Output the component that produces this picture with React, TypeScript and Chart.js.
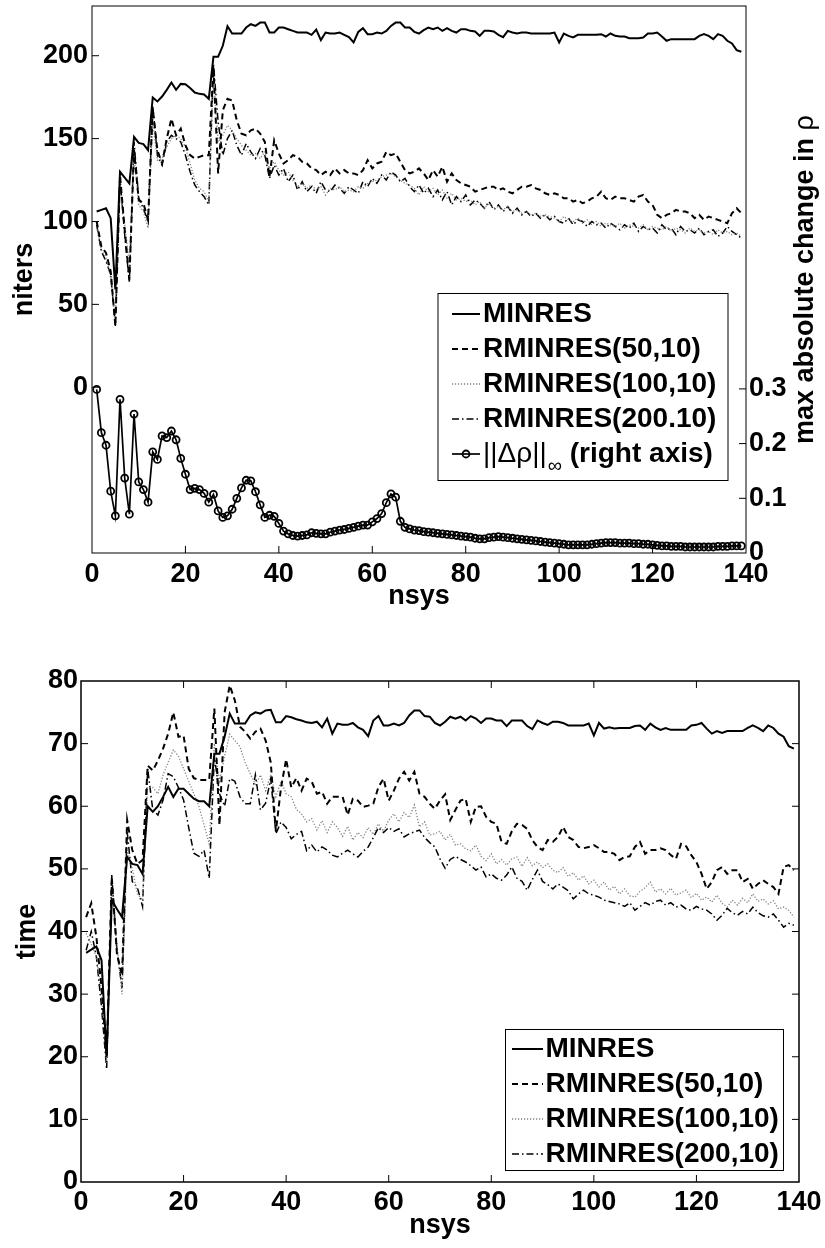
import React, { useEffect, useRef } from 'react';
import { Chart, registerables } from 'chart.js';

Chart.register(...registerables);

const FAMILY = "'Liberation Sans', Arial, Helvetica, sans-serif";
const BOLD27 = `bold 27px ${FAMILY}`;
const BOLD28 = `bold 28px ${FAMILY}`;

// linear system index (x axis of both panels)
const nsys: number[] = Array.from({ length: 139 }, (_, i) => i + 1);

const nsysTicks = [0, 20, 40, 60, 80, 100, 120, 140];
const niterTicks = [0, 50, 100, 150, 200];
const rhoTicks = [0, 0.1, 0.2, 0.3];
const timeTicks = [0, 10, 20, 30, 40, 50, 60, 70, 80];

const seriesNames = ['MINRES', 'RMINRES(50,10)', 'RMINRES(100,10)', 'RMINRES(200,10)'];
const seriesNamesTop = ['MINRES', 'RMINRES(50,10)', 'RMINRES(100,10)', 'RMINRES(200.10)'];

// ---- iteration counts ----
const itersMinres = [
  106, 107, 108, 102, 59, 130, 126.5, 123, 151, 147.4,
  146.7, 143, 174.8, 172.4, 175.4, 179.4, 183.8, 179.4, 183, 182.8,
  180.5, 177.8, 177, 176.6, 174, 199.4, 199.4, 206, 217.8, 213.4,
  213.4, 213.4, 217, 219, 218, 220, 220, 214, 214, 217,
  217, 216, 215, 214, 214, 214, 212.6, 215.8, 209.4, 214,
  213.4, 213.4, 214, 212.6, 211.2, 208, 214.4, 216.6, 213, 213,
  214, 213.4, 215, 218, 220, 220, 217, 217, 214.4, 213.4,
  215.4, 217, 216, 217, 215, 216.6, 215, 214, 216, 216,
  215, 214.6, 212, 215, 215, 214.6, 212.6, 211.2, 215, 214,
  213.4, 214, 214, 213.4, 213.4, 213.4, 213.4, 213.4, 214, 208,
  213.4, 212, 211, 212.6, 212.6, 212.6, 212.6, 212.6, 213, 211.6,
  213.4, 212, 211.6, 211.6, 210.6, 210.6, 210.6, 211, 213.4, 213.4,
  214, 211.6, 209, 210, 210, 210, 210, 210, 210, 212,
  213, 212, 210, 213, 212, 209, 207.4, 203.4, 202.4,
];

const iters50 = [
  100, 85, 81, 70, 37, 128, 95, 65, 143, 113,
  111, 101, 168, 143, 135, 150, 162, 152, 156, 146,
  140, 138, 139, 140, 140, 193, 129, 167, 174, 173,
  161, 153, 152, 155, 156, 153, 148, 127, 149, 141,
  135, 137, 140, 139, 136, 135, 132, 131, 128, 130,
  128, 132, 129, 131, 129, 129, 128, 131, 137, 132,
  135, 136, 142, 140, 141, 136, 131, 129, 130, 132,
  129, 125, 131, 127, 133, 124, 129, 125, 123, 122,
  121, 118, 119, 120, 121, 121, 119, 120, 118, 117,
  119, 121, 121, 122, 120, 119, 117, 116, 117, 116,
  114, 114, 112, 113, 111, 112, 114, 115, 118, 114,
  113, 115, 114, 114, 113, 112, 115, 116, 112, 110,
  104, 102, 104, 105, 107, 106, 106, 105, 102, 104,
  101, 103, 102, 101, 100, 99, 105, 108, 105,
];

const iters100 = [
  97, 83, 78, 66, 42, 124, 98, 75, 140, 110,
  106, 96, 160, 137, 138, 145, 150, 152, 150, 145,
  135, 125, 120, 118, 112, 188, 148, 152, 158, 155,
  150, 146, 143, 140, 141, 138, 142, 132, 136, 131,
  128, 130, 125, 121, 123, 120, 122, 119, 121, 116,
  120, 119, 121, 118, 119, 118, 121, 120, 123, 124,
  125, 127, 128, 129, 127, 125, 123, 122, 120, 116,
  121, 118, 120, 116, 119, 114, 117, 113, 114, 112,
  113, 110, 112, 108, 111, 108, 109, 107, 109, 106,
  107, 105, 106, 104, 105, 103, 104, 103, 102, 100,
  103, 101, 100, 102, 99, 101, 98, 100, 97, 99,
  98, 97, 99, 96, 98, 97, 96, 98, 95, 97,
  96, 95, 97, 94, 96, 95, 93, 96, 94, 95,
  93, 94, 92, 95, 93, 94, 92, 93, 91,
];

const iters200 = [
  98, 82, 76, 68, 37, 126, 92, 63, 148, 114,
  108, 100, 170, 140, 134, 148, 152, 150, 148, 140,
  130, 122, 118, 115, 110, 195, 160, 140, 150, 155,
  146, 140, 147, 142, 138, 144, 140, 126, 134, 128,
  132, 124, 128, 119, 124, 118, 121, 117, 124, 119,
  118, 122, 120, 117, 121, 119, 117, 124, 121, 126,
  123, 128, 125, 130, 128, 124, 126, 121, 118, 122,
  117, 120, 115, 119, 113, 118, 110, 115, 112, 116,
  110, 113, 111, 108, 112, 107, 110, 106, 109, 105,
  108, 104, 106, 103, 105, 102, 104, 101, 103, 100,
  99, 102, 98, 101, 100, 97, 100, 98, 99, 96,
  99, 97, 95, 98, 96, 99, 94, 97, 95, 96,
  93, 98, 95, 96, 92, 97, 94, 95, 93, 96,
  92, 94, 95, 91, 93, 97, 94, 92, 90,
];

// max absolute change in rho between consecutive systems
const rhoChange = [
  0.299, 0.220, 0.197, 0.113, 0.068, 0.281, 0.137, 0.071, 0.254, 0.130,
  0.116, 0.093, 0.185, 0.171, 0.214, 0.211, 0.223, 0.207, 0.173, 0.144,
  0.116, 0.118, 0.116, 0.109, 0.093, 0.107, 0.077, 0.065, 0.068, 0.080,
  0.100, 0.119, 0.133, 0.132, 0.112, 0.088, 0.065, 0.069, 0.067, 0.054,
  0.040, 0.035, 0.032, 0.031, 0.032, 0.033, 0.037, 0.036, 0.035, 0.035,
  0.038, 0.040, 0.042, 0.043, 0.045, 0.047, 0.049, 0.051, 0.051, 0.057,
  0.063, 0.072, 0.092, 0.108, 0.102, 0.058, 0.047, 0.044, 0.042, 0.041,
  0.039, 0.038, 0.037, 0.036, 0.035, 0.034, 0.033, 0.032, 0.031, 0.030,
  0.029, 0.027, 0.026, 0.026, 0.028, 0.029, 0.030, 0.029, 0.028, 0.027,
  0.026, 0.025, 0.024, 0.023, 0.022, 0.021, 0.020, 0.019, 0.018, 0.017,
  0.016, 0.015, 0.015, 0.015, 0.015, 0.015, 0.016, 0.017, 0.018, 0.019,
  0.019, 0.019, 0.018, 0.018, 0.018, 0.017, 0.017, 0.016, 0.016, 0.015,
  0.014, 0.013, 0.013, 0.012, 0.012, 0.012, 0.011, 0.011, 0.011, 0.011,
  0.011, 0.011, 0.011, 0.012, 0.012, 0.012, 0.013, 0.013, 0.013,
];

// ---- run times ----
const timeMinres = [
  36.6, 37.1, 37.6, 35.4, 20.0, 45.0, 43.6, 42.3, 51.9, 50.8,
  50.6, 49.2, 60.0, 59.1, 60.0, 61.5, 63.1, 61.5, 62.8, 62.8,
  62.0, 61.2, 60.8, 60.8, 60.0, 68.4, 68.4, 71.1, 74.8, 73.2,
  73.2, 73.2, 74.5, 75.0, 74.8, 75.3, 75.4, 73.4, 73.4, 74.4,
  74.2, 73.9, 73.7, 73.4, 73.3, 73.5, 72.6, 74.0, 71.6, 73.2,
  73.0, 73.0, 73.3, 72.6, 72.2, 71.2, 73.7, 74.4, 72.9, 72.9,
  73.2, 72.9, 73.3, 74.5, 75.3, 75.3, 74.4, 74.3, 73.3, 72.9,
  73.5, 74.3, 74.0, 74.3, 73.7, 74.4, 74.0, 73.3, 74.0, 74.0,
  73.7, 73.7, 72.8, 73.7, 73.7, 73.7, 72.8, 72.3, 73.7, 73.3,
  73.0, 73.5, 73.5, 73.3, 72.9, 72.9, 72.9, 72.9, 73.2, 71.3,
  73.3, 72.4, 72.6, 72.4, 72.5, 72.5, 72.5, 72.8, 72.9, 72.2,
  73.2, 72.6, 72.2, 72.5, 72.2, 72.2, 72.2, 72.2, 72.9, 73.0,
  73.3, 72.4, 71.6, 72.0, 71.7, 72.0, 72.0, 72.0, 72.0, 72.5,
  72.9, 72.5, 72.0, 72.9, 72.5, 71.6, 71.1, 69.6, 69.2,
];

const time50 = [
  42.3, 44.5, 39.1, 31.1, 20.0, 48.7, 36.5, 33.0, 57.8, 53.0,
  50.8, 51.4, 66.5, 65.7, 67.3, 69.2, 71.6, 75.0, 71.1, 71.3,
  66.0, 64.5, 64.2, 64.2, 64.2, 75.6, 57.0, 75.0, 79.3, 76.9,
  72.7, 71.9, 70.8, 71.9, 72.4, 70.5, 67.0, 56.0, 63.0, 67.5,
  63.0, 64.5, 62.5, 64.4, 63.9, 62.0, 62.3, 60.4, 61.5, 61.5,
  61.5, 58.6, 61.2, 60.9, 59.9, 60.1, 60.4, 63.1, 64.4, 60.9,
  62.5, 64.4, 65.5, 64.1, 65.5, 62.0, 61.5, 60.4, 59.6, 60.9,
  61.9, 57.8, 59.4, 60.9, 61.2, 57.5, 59.9, 60.0, 58.3, 57.5,
  57.2, 54.3, 54.0, 56.0, 57.2, 57.0, 56.4, 54.6, 53.5, 53.0,
  54.6, 54.3, 55.1, 56.7, 55.1, 54.6, 53.5, 53.3, 53.5, 53.8,
  53.3, 52.7, 52.7, 52.4, 51.4, 51.9, 52.0, 53.5, 54.3, 52.4,
  53.0, 53.0, 53.3, 53.0, 52.2, 51.6, 54.0, 53.6, 52.2, 51.1,
  49.2, 46.8, 47.9, 49.8, 50.3, 49.2, 49.8, 49.8, 47.9, 48.4,
  46.8, 47.6, 48.2, 47.6, 47.1, 46.0, 50.3, 50.6, 49.8,
];

const time100 = [
  39.7, 38.0, 36.0, 30.0, 19.0, 46.0, 38.0, 30.0, 53.0, 50.0,
  46.0, 45.0, 63.0, 63.0, 62.0, 65.0, 67.0, 69.0, 68.0, 66.0,
  64.0, 62.0, 60.0, 57.0, 54.0, 70.0, 64.0, 68.0, 71.5, 70.5,
  69.5, 67.0, 65.2, 63.5, 65.0, 62.5, 65.0, 61.5, 64.0, 62.0,
  61.5, 59.5, 58.8, 57.5, 58.0, 56.2, 57.7, 55.8, 57.5, 56.6,
  55.2, 56.8, 54.6, 55.8, 55.0, 56.6, 55.5, 57.2, 56.0, 57.8,
  58.8, 57.5, 59.0, 58.2, 60.2, 56.7, 57.5, 55.4, 55.6, 56.0,
  54.6, 55.5, 53.8, 54.0, 53.2, 52.9, 53.8, 52.0, 51.3, 52.4,
  50.8, 51.5, 50.6, 51.6, 51.9, 50.4, 51.8, 50.5, 51.1, 50.2,
  50.8, 49.8, 49.4, 50.2, 48.8, 49.4, 48.2, 48.9, 47.6, 48.2,
  47.1, 47.9, 46.6, 47.2, 46.0, 46.8, 45.7, 45.5, 46.4, 47.0,
  47.9, 46.3, 46.8, 46.0, 46.9, 45.8, 46.2, 46.6, 45.4, 46.1,
  45.0, 45.5, 44.7, 45.8, 44.5, 43.9, 45.0, 44.2, 45.3, 44.6,
  46.0, 44.8, 45.2, 44.4, 44.9, 43.6, 43.9, 43.4, 42.3,
];

const time200 = [
  37.0, 40.0, 36.0, 28.0, 18.0, 49.0, 37.0, 31.0, 56.0, 48.0,
  47.0, 44.0, 66.0, 59.4, 58.6, 61.0, 65.2, 64.7, 63.0, 61.0,
  56.6, 52.5, 52.0, 53.0, 48.5, 68.0, 62.0, 60.0, 64.4, 64.0,
  61.5, 60.4, 60.4, 65.0, 59.4, 60.5, 64.4, 55.6, 57.5, 56.6,
  54.8, 55.5, 56.0, 52.9, 53.8, 52.7, 53.5, 53.0, 52.2, 51.9,
  52.5, 53.0, 52.4, 51.9, 52.8, 53.5, 55.0, 56.6, 55.8, 56.6,
  56.0, 56.4, 55.1, 55.6, 55.9, 56.2, 55.0, 54.2, 53.5, 51.6,
  50.1, 51.5, 52.0, 51.5, 51.1, 50.5, 49.8, 50.3, 48.7, 49.2,
  48.5, 48.2, 49.0, 50.3, 48.5, 48.0, 46.6, 48.3, 49.8, 48.0,
  47.5, 46.8, 47.6, 47.1, 46.5, 45.2, 46.0, 46.6, 46.0, 45.8,
  45.5, 45.0, 44.8, 44.6, 44.4, 44.0, 44.6, 43.4, 44.0, 44.6,
  44.2, 44.8, 45.0, 44.2, 44.6, 43.9, 44.2, 43.6, 43.4, 44.0,
  43.6, 43.4, 42.8, 41.8, 42.6, 43.7, 43.0, 42.6, 43.2, 42.8,
  43.9, 43.0, 42.5, 42.3, 42.8, 41.8, 40.7, 41.3, 41.0,
];

const pts = (values: number[]) => values.map((v, i) => ({ x: nsys[i], y: v }));

// line styles shared by both panels
const lineStyles = [
  { borderColor: '#000', borderWidth: 2, borderDash: [] as number[] },
  { borderColor: '#000', borderWidth: 2, borderDash: [6, 4] },
  { borderColor: '#808080', borderWidth: 1.3, borderDash: [1.2, 1.8] },
  { borderColor: '#000', borderWidth: 1.5, borderDash: [7, 3, 1.5, 3] },
];

// frame, inward tick marks, side title and boxed legend
const decorPlugin = {
  id: 'decor',
  afterDraw(chart: any, _args: any, opts: any) {
    const ctx: CanvasRenderingContext2D = chart.ctx;
    const a = chart.chartArea;
    const len = opts.tickLength ?? 7;
    ctx.save();
    ctx.strokeStyle = '#000';
    ctx.setLineDash([]);
    ctx.lineWidth = opts.tickWidth ?? 1;
    for (const spec of opts.ticks ?? []) {
      const s = chart.scales[spec.scale];
      for (const t of s.ticks) {
        const p = s.getPixelForValue(t.value);
        ctx.beginPath();
        if (s.isHorizontal()) {
          if (p <= a.left + 1 || p >= a.right - 1) continue;
          for (const side of spec.sides) {
            const y0 = side === 'top' ? a.top : a.bottom;
            const d = side === 'top' ? len : -len;
            ctx.moveTo(p, y0);
            ctx.lineTo(p, y0 + d);
          }
        } else {
          if (p <= a.top + 1 || p >= a.bottom - 1) continue;
          for (const side of spec.sides) {
            const x0 = side === 'left' ? a.left : a.right;
            const d = side === 'left' ? len : -len;
            ctx.moveTo(x0, p);
            ctx.lineTo(x0 + d, p);
          }
        }
        ctx.stroke();
      }
    }
    ctx.lineWidth = opts.frameWidth ?? 1;
    ctx.strokeRect(a.left, a.top, a.right - a.left, a.bottom - a.top);

    const st = opts.sideTitle;
    if (st) {
      ctx.save();
      ctx.translate(st.x, (a.top + a.bottom) / 2);
      ctx.rotate(-Math.PI / 2);
      ctx.fillStyle = '#000';
      ctx.textBaseline = 'middle';
      ctx.textAlign = 'left';
      let total = 0;
      for (const p of st.parts) {
        ctx.font = p.font;
        total += ctx.measureText(p.text).width;
      }
      let x = -total / 2;
      for (const p of st.parts) {
        ctx.font = p.font;
        ctx.fillText(p.text, x, 0);
        x += ctx.measureText(p.text).width;
      }
      ctx.restore();
    }

    const L = opts.legend;
    if (L) {
      ctx.fillStyle = '#fff';
      ctx.fillRect(L.x, L.y, L.w, L.h);
      ctx.lineWidth = 1;
      ctx.strokeStyle = '#000';
      ctx.strokeRect(L.x + 0.5, L.y + 0.5, L.w, L.h);
      chart.data.datasets.forEach((ds: any, i: number) => {
        const cy = L.y + L.firstRow + i * L.rowGap;
        const x0 = L.x + L.sampleX;
        const x1 = x0 + L.sampleLen;
        ctx.save();
        ctx.strokeStyle = ds.borderColor;
        ctx.lineWidth = ds.borderWidth;
        ctx.setLineDash(ds.borderDash ?? []);
        ctx.beginPath();
        ctx.moveTo(x0, cy);
        ctx.lineTo(x1, cy);
        ctx.stroke();
        if (ds.pointRadius) {
          ctx.setLineDash([]);
          ctx.lineWidth = ds.pointBorderWidth ?? 1;
          ctx.beginPath();
          ctx.arc((x0 + x1) / 2, cy, ds.pointRadius, 0, Math.PI * 2);
          ctx.stroke();
        }
        ctx.restore();
        ctx.fillStyle = '#000';
        ctx.textBaseline = 'middle';
        ctx.textAlign = 'left';
        let tx = L.x + L.textX;
        const parts = ds.legendParts ?? [{ text: ds.label, font: L.font }];
        for (const p of parts) {
          ctx.font = p.font;
          ctx.fillText(p.text, tx, cy + (p.dy ?? 0));
          tx += ctx.measureText(p.text).width + (p.gap ?? 0);
        }
      });
    }
    ctx.restore();
  },
};

const fixedTicks = (values: number[]) => (scale: any) => {
  scale.ticks = values.map((v) => ({ value: v }));
};

const fixSize = (dim: 'width' | 'height', size: number) => (scale: any) => {
  scale[dim] = size;
  scale.paddingTop = 0;
  scale.paddingBottom = 0;
  scale.paddingLeft = 0;
  scale.paddingRight = 0;
};

function iterationsConfig(): any {
  const series = [itersMinres, iters50, iters100, iters200];
  const datasets: any[] = series.map((vals, i) => ({
    label: seriesNamesTop[i],
    data: pts(vals),
    yAxisID: 'y',
    pointRadius: 0,
    tension: 0,
    fill: false,
    ...lineStyles[i],
  }));
  datasets.push({
    label: '||Δρ||∞ (right axis)',
    data: pts(rhoChange),
    yAxisID: 'y1',
    borderColor: '#000',
    borderWidth: 1.7,
    borderDash: [],
    pointRadius: 3.5,
    pointBorderWidth: 1.8,
    pointBorderColor: '#000',
    pointBackgroundColor: 'rgba(0,0,0,0)',
    tension: 0,
    fill: false,
    legendParts: [
      { text: '||Δρ||', font: `28px ${FAMILY}`, gap: 1 },
      { text: '∞', font: `20px ${FAMILY}`, dy: 12, gap: 0 },
      { text: ' (right axis)', font: BOLD28 },
    ],
  });
  return {
    type: 'line',
    data: { datasets },
    options: {
      animation: false,
      responsive: false,
      events: [],
      layout: { autoPadding: false, padding: { top: 6, left: 0, right: 0, bottom: 0 } },
      plugins: {
        legend: { display: false },
        tooltip: { enabled: false },
        decor: {
          tickLength: 7,
          frameWidth: 1,
          ticks: [
            { scale: 'x', sides: ['bottom'] },
            { scale: 'y', sides: ['left'] },
            { scale: 'y1', sides: ['right'] },
          ],
          sideTitle: {
            x: 806,
            parts: [
              { text: 'max absolute change in ', font: BOLD27 },
              { text: 'ρ', font: `27px ${FAMILY}` },
            ],
          },
          legend: {
            x: 437.5, y: 293, w: 290, h: 187,
            firstRow: 21, rowGap: 35,
            sampleX: 14.5, sampleLen: 28, textX: 45.5,
            font: BOLD28,
          },
        },
      },
      scales: {
        x: {
          type: 'linear', min: 0, max: 140,
          afterBuildTicks: fixedTicks(nsysTicks),
          afterFit: fixSize('height', 67),
          grid: { display: false, drawTicks: false },
          border: { display: false },
          ticks: { font: { family: FAMILY, size: 27, weight: 'bold' }, color: '#000', padding: 5, maxRotation: 0, autoSkip: false },
          title: { display: true, text: 'nsys', color: '#000', font: { family: FAMILY, size: 27, weight: 'bold' }, padding: { top: 0, bottom: 7 } },
        },
        y: {
          type: 'linear', position: 'left', min: -100, max: 230,
          afterBuildTicks: fixedTicks(niterTicks),
          afterFit: fixSize('width', 92),
          grid: { display: false, drawTicks: false },
          border: { display: false },
          ticks: { font: { family: FAMILY, size: 27, weight: 'bold' }, color: '#000', padding: 4, autoSkip: false },
          title: { display: true, text: 'niters', color: '#000', font: { family: FAMILY, size: 27, weight: 'bold' }, padding: { top: 8, bottom: 0 } },
        },
        y1: {
          type: 'linear', position: 'right', min: 0, max: 1,
          afterBuildTicks: fixedTicks(rhoTicks),
          afterFit: fixSize('width', 79),
          grid: { display: false, drawTicks: false },
          border: { display: false },
          ticks: {
            font: { family: FAMILY, size: 27, weight: 'bold' }, color: '#000', padding: 3, autoSkip: false,
            callback: (v: number) => (v === 0 ? '0' : v.toFixed(1)),
          },
        },
      },
    },
    plugins: [decorPlugin],
  };
}

function timeConfig(): any {
  const series = [timeMinres, time50, time100, time200];
  const datasets = series.map((vals, i) => ({
    label: seriesNames[i],
    data: pts(vals),
    pointRadius: 0,
    tension: 0,
    fill: false,
    ...lineStyles[i],
  }));
  return {
    type: 'line',
    data: { datasets },
    options: {
      animation: false,
      responsive: false,
      events: [],
      layout: { autoPadding: false, padding: { top: 61, left: 0, right: 26, bottom: 0 } },
      plugins: {
        legend: { display: false },
        tooltip: { enabled: false },
        decor: {
          tickLength: 7,
          frameWidth: 1.5,
          ticks: [
            { scale: 'x', sides: ['bottom', 'top'] },
            { scale: 'y', sides: ['left', 'right'] },
          ],
          legend: {
            x: 505, y: 409, w: 278, h: 141,
            firstRow: 20, rowGap: 35,
            sampleX: 7, sampleLen: 31, textX: 40.5,
            font: BOLD28,
          },
        },
      },
      scales: {
        x: {
          type: 'linear', min: 0, max: 140,
          afterBuildTicks: fixedTicks(nsysTicks),
          afterFit: fixSize('height', 66),
          grid: { display: false, drawTicks: false },
          border: { display: false },
          ticks: { font: { family: FAMILY, size: 27, weight: 'bold' }, color: '#000', padding: 4.5, maxRotation: 0, autoSkip: false },
          title: { display: true, text: 'nsys', color: '#000', font: { family: FAMILY, size: 27, weight: 'bold' }, padding: { top: 0, bottom: 6 } },
        },
        y: {
          type: 'linear', position: 'left', min: 0, max: 80,
          afterBuildTicks: fixedTicks(timeTicks),
          afterFit: fixSize('width', 81),
          grid: { display: false, drawTicks: false },
          border: { display: false },
          ticks: { font: { family: FAMILY, size: 27, weight: 'bold' }, color: '#000', padding: 3, autoSkip: false },
          title: { display: true, text: 'time', color: '#000', font: { family: FAMILY, size: 27, weight: 'bold' }, padding: { top: 11, bottom: 0 } },
        },
      },
    },
    plugins: [decorPlugin],
  };
}

function Panel({ width, height, top, build }: { width: number; height: number; top: number; build: () => any }) {
  const ref = useRef<HTMLCanvasElement | null>(null);
  useEffect(() => {
    if (!ref.current) return;
    const chart = new Chart(ref.current, build());
    return () => chart.destroy();
  }, [build]);
  return (
    <canvas
      ref={ref}
      width={width}
      height={height}
      style={{ position: 'absolute', left: 0, top, width, height, display: 'block' }}
    />
  );
}

export default function App() {
  return (
    <div style={{ position: 'absolute', left: 0, top: 0, width: 825, height: 1248, background: '#fff', overflow: 'hidden' }}>
      <Panel width={825} height={620} top={0} build={iterationsConfig} />
      <Panel width={825} height={628} top={620} build={timeConfig} />
    </div>
  );
}
